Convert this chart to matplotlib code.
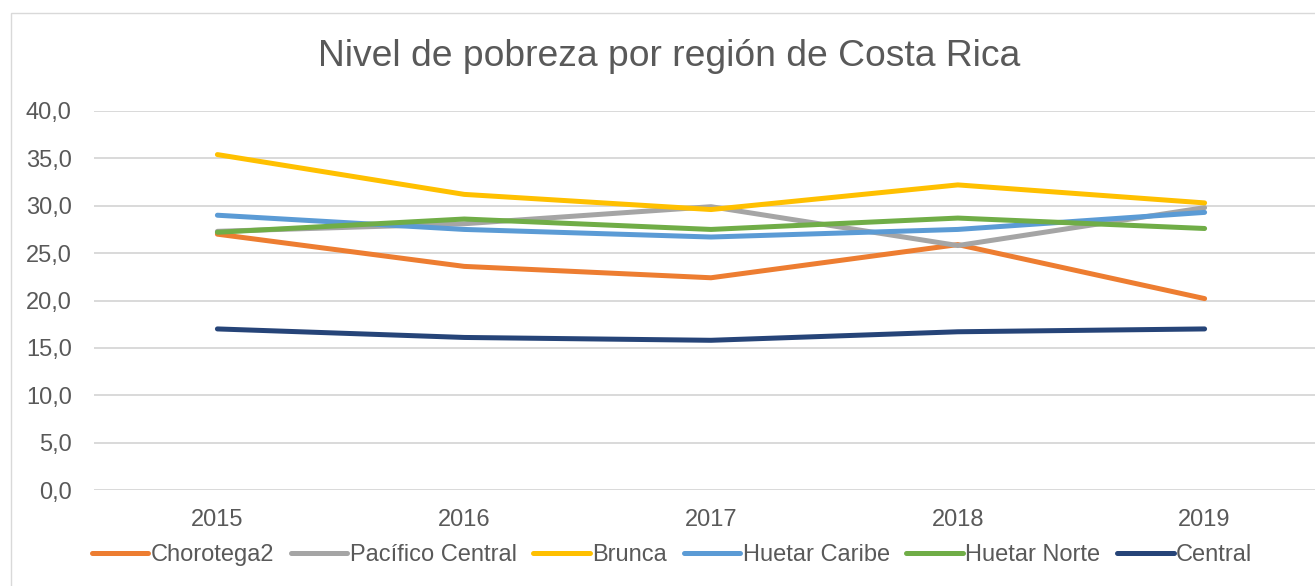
import numpy as np
import matplotlib
matplotlib.use('Agg')
import matplotlib.pyplot as plt
from matplotlib.patches import Rectangle
from matplotlib.ticker import FuncFormatter

plt.rcParams['font.family'] = ['Liberation Sans', 'DejaVu Sans']

# data
years = ['2015', '2016', '2017', '2018', '2019']
chorotega = [27.0, 23.6, 22.4, 25.9, 20.2]
pacifico_central = [27.3, 28.1, 29.9, 25.8, 29.8]
brunca = [35.4, 31.2, 29.6, 32.2, 30.3]
huetar_caribe = [29.0, 27.5, 26.7, 27.5, 29.3]
huetar_norte = [27.2, 28.6, 27.5, 28.7, 27.6]
central = [17.0, 16.1, 15.8, 16.7, 17.0]

series = [
    ('Chorotega2', chorotega, '#ED7D31'),
    ('Pacífico Central', pacifico_central, '#A5A5A5'),
    ('Brunca', brunca, '#FFC000'),
    ('Huetar Caribe', huetar_caribe, '#5B9BD5'),
    ('Huetar Norte', huetar_norte, '#70AD47'),
    ('Central', central, '#264478'),
]

TEXT = '#595959'
GRID = '#D9D9D9'
W, H = 1315, 586

fig = plt.figure(figsize=(W / 100, H / 100), dpi=100)
fig.patch.set_facecolor('white')

# outer chart border
fig.patches.append(Rectangle((11 / W, -0.02), 1.05, 1 - 13 / H + 0.02,
                             transform=fig.transFigure, fill=False,
                             edgecolor=GRID, linewidth=1.0))

ax = fig.add_axes([94 / W, 96 / H, 1234 / W, 379 / H])
x = np.arange(len(years))
for name, vals, col in series:
    ax.plot(x, vals, color=col, linewidth=3.6, solid_capstyle='round',
            solid_joinstyle='round', label=name)

ax.set_xlim(-0.5, len(years) - 0.5)
ax.set_ylim(0, 40)
ax.set_yticks(np.arange(0, 41, 5))
ax.yaxis.set_major_formatter(FuncFormatter(lambda v, p: ('%.1f' % v).replace('.', ',')))
ax.set_xticks(x)
ax.set_xticklabels(years)
ax.grid(axis='y', color=GRID, linewidth=1.4)
ax.set_axisbelow(True)
for s in ax.spines.values():
    s.set_visible(False)
ax.tick_params(axis='both', length=0, labelsize=17, colors=TEXT)
ax.tick_params(axis='x', pad=14)
ax.tick_params(axis='y', pad=16)

fig.text(669 / W, 1 - 56 / H, 'Nivel de pobreza por región de Costa Rica',
         ha='center', va='center', fontsize=26.8, color=TEXT)

leg = ax.legend(loc='center', bbox_to_anchor=(672 / W, 1 - 555 / H),
                bbox_transform=fig.transFigure, ncol=6, frameon=False,
                fontsize=17, handlelength=2.4, handletextpad=0.1,
                columnspacing=0.7)
for t in leg.get_texts():
    t.set_color(TEXT)

plt.savefig('out.png', dpi=100)
